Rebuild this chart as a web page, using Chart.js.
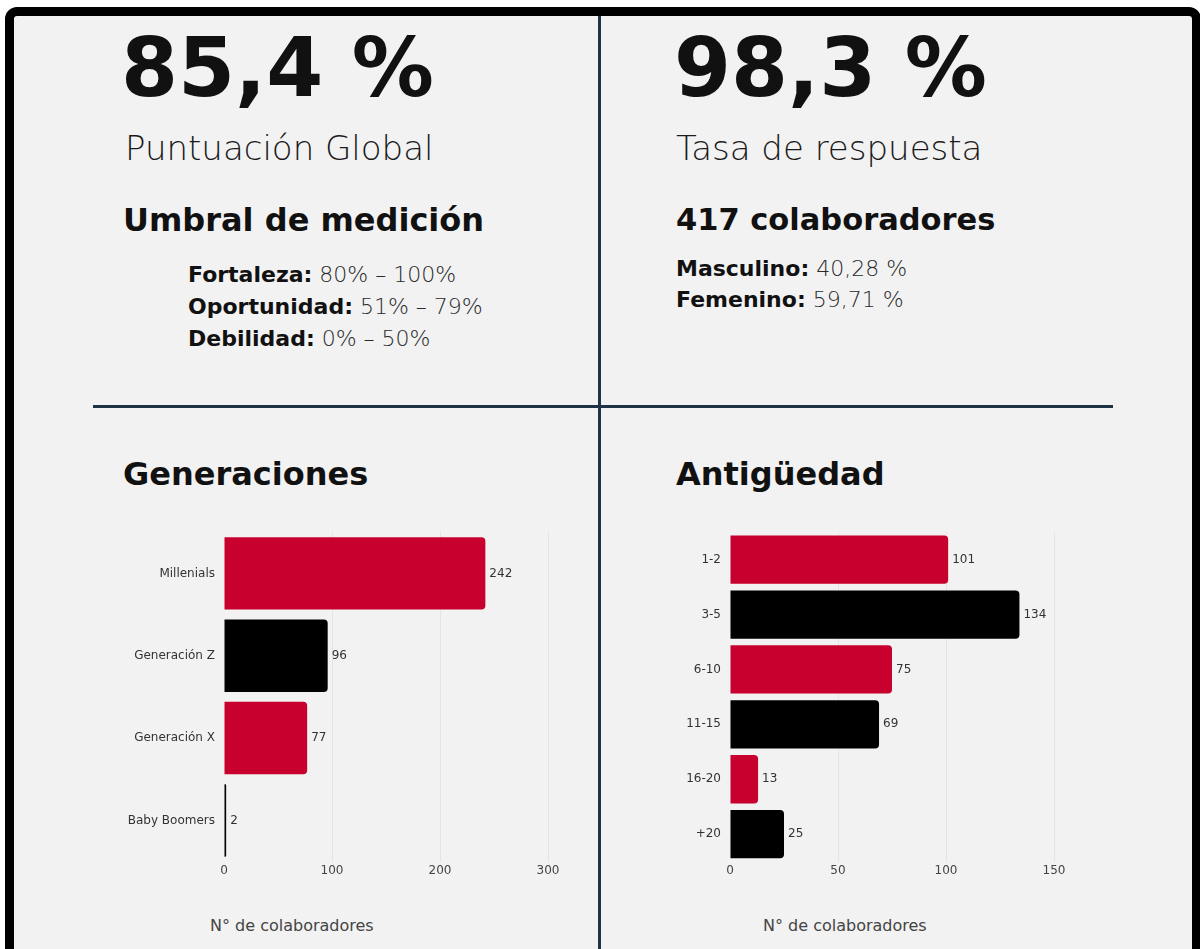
<!DOCTYPE html>
<html>
<head>
<meta charset="utf-8">
<script src="https://cdn.jsdelivr.net/npm/chart.js@4.4.1/dist/chart.umd.min.js"></script>
<style>
  html, body { margin: 0; padding: 0; background: #fff; }
  body { width: 1200px; height: 949px; position: relative; overflow: hidden; font-family: 'DejaVu Sans', sans-serif; color: #111; }
  .frame { position: absolute; left: 5px; top: 7px; width: 1178px; height: 980px; border: 9px solid #000; border-radius: 12px; background: #f2f2f2; }
  .vline { position: absolute; left: 598px; top: 16px; width: 3px; height: 940px; background: #1e3446; }
  .hline { position: absolute; left: 93px; top: 405px; width: 1020px; height: 3px; background: #1e3446; }
  .t { position: absolute; line-height: 1; white-space: nowrap; }
  .big { font-size: 82px; font-weight: bold; }
  .sub { font-size: 34px; font-weight: 300; color: #1a1a1a; }
  .h2 { font-size: 32px; font-weight: bold; }
  .row { font-size: 22px; color: #2a2a2a; font-weight: 300; }
  .row b { color: #111; font-weight: bold; }
  .axt { font-size: 16px; color: #444; }
  .box { position: absolute; top: 516px; width: 460px; height: 370px; }
</style>
</head>
<body>
<div class="frame"></div>
<div class="vline"></div>
<div class="hline"></div>

<div class="t big" style="left:121px;top:27px">85,4 %</div>
<div class="t sub" style="left:125px;top:131px">Puntuación Global</div>
<div class="t h2" style="left:123px;top:204px">Umbral de medición</div>
<div class="t row" style="left:188px;top:264px"><b>Fortaleza:</b> 80% – 100%</div>
<div class="t row" style="left:188px;top:296px"><b>Oportunidad:</b> 51% – 79%</div>
<div class="t row" style="left:188px;top:328px"><b>Debilidad:</b> 0% – 50%</div>

<div class="t big" style="left:674px;top:27px">98,3 %</div>
<div class="t sub" style="left:676px;top:131px">Tasa de respuesta</div>
<div class="t h2" style="left:676px;top:205px;font-size:30.5px">417 colaboradores</div>
<div class="t row" style="left:676px;top:258px"><b>Masculino:</b> 40,28 %</div>
<div class="t row" style="left:676px;top:289px"><b>Femenino:</b> 59,71 %</div>

<div class="t h2" style="left:123px;top:458px">Generaciones</div>
<div class="t h2" style="left:676px;top:458px">Antigüedad</div>

<div class="box" style="left:110px"><canvas id="genChart"></canvas></div>
<div class="box" style="left:616px"><canvas id="antChart"></canvas></div>

<div class="t axt" style="left:210px;top:918px">N° de colaboradores</div>
<div class="t axt" style="left:763px;top:918px">N° de colaboradores</div>

<script>
const RED = '#c8002d';
const BLACK = '#000000';

// Generaciones
const genLabels = ['Millenials', 'Generación Z', 'Generación X', 'Baby Boomers'];
const genValues = [242, 96, 77, 2];
const genColors = [RED, BLACK, RED, BLACK];
const genMax = 300;
const genStep = 100;

// Antigüedad
const antLabels = ['1-2', '3-5', '6-10', '11-15', '16-20', '+20'];
const antValues = [101, 134, 75, 69, 13, 25];
const antColors = [RED, BLACK, RED, BLACK, RED, BLACK];
const antMax = 150;
const antStep = 50;

// value labels next to each bar end
const barValues = {
  id: 'barValues',
  afterDatasetsDraw(chart) {
    const ctx = chart.ctx;
    ctx.save();
    ctx.font = '12px "DejaVu Sans"';
    ctx.fillStyle = '#333';
    ctx.textAlign = 'left';
    ctx.textBaseline = 'middle';
    chart.getDatasetMeta(0).data.forEach((bar, i) => {
      ctx.fillText(chart.data.datasets[0].data[i], bar.x + 4, bar.y);
    });
    ctx.restore();
  },
};

function makeChart(canvas, labels, values, colors, max, step) {
  return new Chart(canvas, {
    type: 'bar',
    data: {
      labels: labels,
      datasets: [{
        data: values,
        backgroundColor: colors,
        borderRadius: 4,
        borderSkipped: 'start',
        barPercentage: 0.88,
        categoryPercentage: 1,
      }],
    },
    options: {
      indexAxis: 'y',
      responsive: true,
      maintainAspectRatio: false,
      animation: false,
      layout: { padding: { left: 0, right: 22, top: 10, bottom: 6 } },
      plugins: { legend: { display: false }, tooltip: { enabled: false } },
      scales: {
        x: {
          min: 0,
          max: max,
          ticks: {
            stepSize: step,
            padding: 2,
            color: '#444',
            font: { family: 'DejaVu Sans', size: 12 },
          },
          grid: {
            drawTicks: false,
            color: (c) => (c.tick && c.tick.value === 0 ? 'rgba(0,0,0,0)' : '#e4e4e4'),
          },
          border: { display: false },
        },
        y: {
          afterFit: (scale) => { scale.width = 114; },
          ticks: {
            padding: 9,
            color: '#333',
            font: { family: 'DejaVu Sans', size: 12 },
          },
          grid: { display: false, drawTicks: false },
          border: { display: false },
        },
      },
    },
    plugins: [barValues],
  });
}

makeChart(document.getElementById('genChart'), genLabels, genValues, genColors, genMax, genStep);
makeChart(document.getElementById('antChart'), antLabels, antValues, antColors, antMax, antStep);
</script>
</body>
</html>
